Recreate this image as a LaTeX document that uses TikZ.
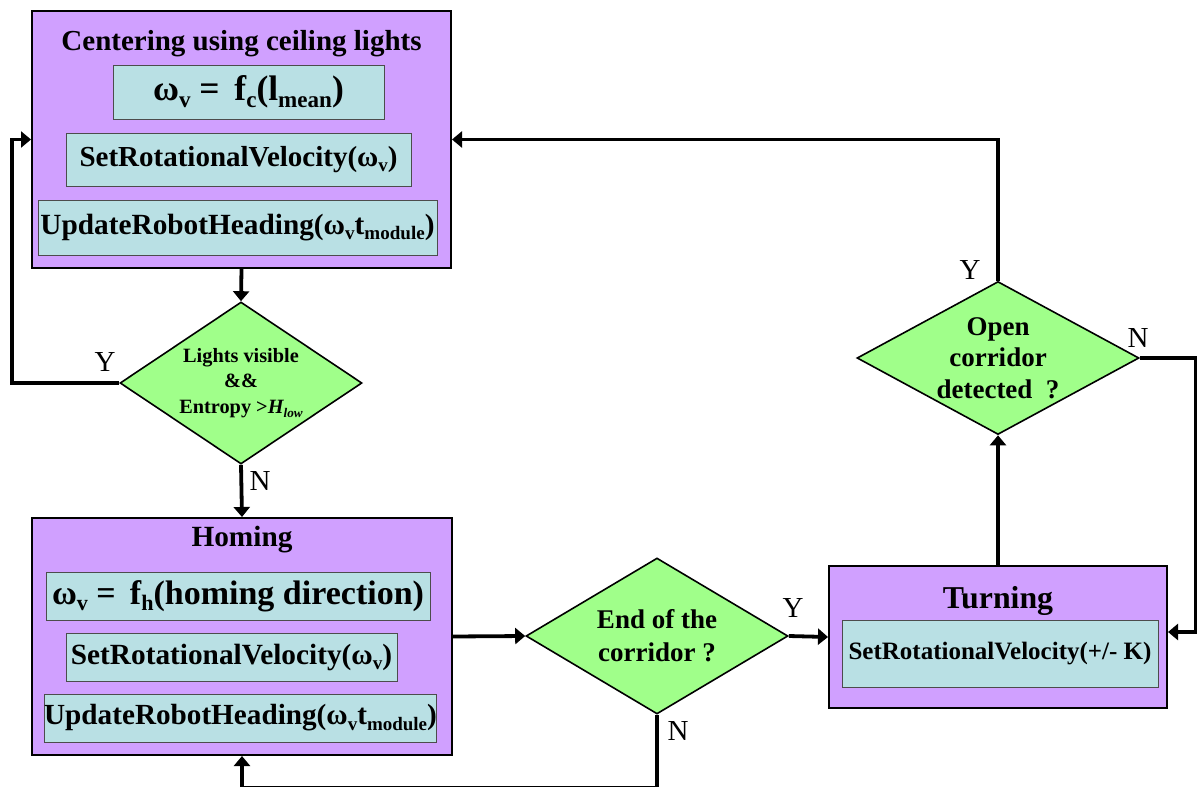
\documentclass[tikz,border=0pt]{standalone}
\usepackage{fontspec}
\usepackage{graphicx}
\setmainfont{Liberation Serif}
\usetikzlibrary{shapes.geometric,arrows.meta}
\definecolor{boxpurple}{HTML}{D0A0FF}
\definecolor{boxcyan}{HTML}{B9E0E4}
\definecolor{dgreen}{HTML}{A0FF8A}
\newcommand\dn[1]{\raisebox{-0.4ex}{\scalebox{0.65}{#1}}}
\newcommand\fs[2]{\fontsize{#1}{#2}\selectfont}
\tikzset{
  outerbox/.style={draw=black, line width=2pt, fill=boxpurple, inner sep=0pt},
  innerbox/.style={draw=black!70, line width=0.8pt, fill=boxcyan, inner sep=0pt, font=\bfseries},
  titletext/.style={inner sep=0pt, font=\bfseries},
  decision/.style={diamond, draw=black, line width=1.6pt, fill=dgreen, inner sep=0pt, align=center, font=\bfseries},
  conn/.style={line width=3.8pt},
  arr/.style={line width=3.8pt, -{Triangle[length=10pt,width=16pt]}},
  lbl/.style={inner sep=0pt, font=\fs{29}{30}}
}
\begin{document}
\begin{tikzpicture}[x=1pt,y=-1pt]
\useasboundingbox (0,0) rectangle (1197,787);
\clip (0,0) rectangle (1197,787);

% Centering box
\node[outerbox, minimum width=419pt, minimum height=257pt] (c1) at (241.5,139.5) {};
\node[titletext, font=\bfseries\fs{29}{30}] (c1t) at (241.5,44) {Centering using ceiling lights};
\node[innerbox, minimum width=271pt, minimum height=54pt, font=\bfseries\fs{35.5}{36}] (c1a) at (248.5,92) {ω\dn{v} =\, f\dn{c}(l\dn{mean})};
\node[innerbox, minimum width=345pt, minimum height=53pt, font=\bfseries\fs{29}{30}] (c1b) at (238.5,159.5) {SetRotationalVelocity(ω\dn{v})};
\node[innerbox, minimum width=399pt, minimum height=55pt, font=\bfseries\fs{29.3}{30}] (c1c) at (237.5,227.5) {UpdateRobotHeading(ω\dn{v}t\dn{module})};

% Decision 1
\node[decision, minimum width=242pt, minimum height=162pt, aspect=1.49, font=\bfseries\fs{20.3}{25.5}] (d1) at (241,383) {Lights visible\\\&\&\\Entropy >\textit{H\dn{low}}};

% Homing box
\node[outerbox, minimum width=420pt, minimum height=237pt] (h) at (242,636.5) {};
\node[titletext, font=\bfseries\fs{29.3}{30}] (ht) at (242,540) {Homing};
\node[innerbox, minimum width=384pt, minimum height=48pt, font=\bfseries\fs{34}{35}] (ha) at (238,596) {ω\dn{v} =\, f\dn{h}(homing direction)};
\node[innerbox, minimum width=331pt, minimum height=48pt, font=\bfseries\fs{29.3}{30}] (hb) at (231.5,657) {SetRotationalVelocity(ω\dn{v})};
\node[innerbox, minimum width=391pt, minimum height=48pt, font=\bfseries\fs{29.2}{30}] (hc) at (240.5,718) {UpdateRobotHeading(ω\dn{v}t\dn{module})};

% Decision 2
\node[decision, minimum width=262pt, minimum height=156pt, aspect=1.68, font=\bfseries\fs{27}{33}] (d2) at (657,636) {End of the\\corridor ?};

% Turning box
\node[outerbox, minimum width=338pt, minimum height=142pt] (t) at (998,637) {};
\node[titletext, font=\bfseries\fs{31.8}{34}] (tt) at (998,601) {Turning};
\node[innerbox, minimum width=316pt, minimum height=67pt, font=\bfseries\fs{25}{27}] (ta) at (1000,653.5) {SetRotationalVelocity(+/- K)};

% Decision 3
\node[decision, minimum width=282pt, minimum height=153pt, aspect=1.84, font=\bfseries\fs{27}{31.5}] (d3) at (998,358) {Open\\corridor\\detected\enspace?};

% Connectors
\coordinate (lx) at (12,383);
\coordinate (bot) at (657,787.8);
\coordinate (topy) at (998,139.5);
\coordinate (rx) at (1195.5,358);

\draw[arr] (c1.south) -- (d1.north);
\draw[arr] (d1.west) -- (lx) |- (c1.west);
\draw[arr] (d1.south) -- (h.north);
\draw[arr] (h.east) -- (d2.west);
\draw[arr] (d2.east) -- (t.west);
\draw[arr] (d2.south) -- (bot) -| (h.south);
\draw[arr] (t.north) -- (d3.south);
\draw[arr] (d3.north) -- (topy) -- (c1.east);
\draw[arr] (d3.east) -- (rx) |- ([yshift=5pt]t.east);

% Labels
\node[lbl] (ly1) at (105,362) {Y};
\node[lbl] (ln1) at (260,481) {N};
\node[lbl] (ly2) at (793,608) {Y};
\node[lbl] (ln2) at (678,731) {N};
\node[lbl] (ly3) at (970,270) {Y};
\node[lbl] (ln3) at (1138,338) {N};
\end{tikzpicture}
\end{document}
